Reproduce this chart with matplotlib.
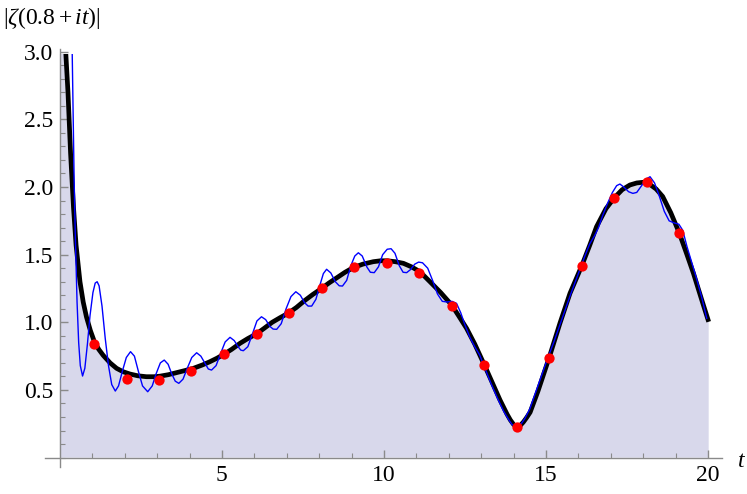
import matplotlib
matplotlib.use('Agg')
import matplotlib.pyplot as plt
from matplotlib.patches import Rectangle
from matplotlib.ticker import MultipleLocator, FixedLocator

plt.rcParams['font.family'] = ['Liberation Serif', 'DejaVu Serif']
plt.rcParams['mathtext.fontset'] = 'custom'
plt.rcParams['mathtext.rm'] = 'Liberation Serif'
plt.rcParams['mathtext.it'] = 'Liberation Serif:italic'

# |zeta(0.8+it)|
zeta_t = [0.00, 0.10, 0.18, 0.25, 0.33, 0.42, 0.50, 0.62, 0.72, 0.82, 0.94, 1.06, 1.20, 1.34,
          1.55, 1.75, 1.95, 2.16, 2.40, 2.67, 2.90, 3.09, 3.35, 3.60, 3.85, 4.12, 4.40, 4.63,
          4.85, 5.07, 5.30, 5.56, 5.80, 6.07, 6.30, 6.55, 6.80, 7.05, 7.30, 7.55, 7.80, 8.08,
          8.30, 8.55, 8.80, 9.05, 9.35, 9.67, 9.90, 10.10, 10.35, 10.60, 10.85, 11.11, 11.42,
          11.75, 12.09, 12.30, 12.55, 12.80, 13.10, 13.35, 13.58, 13.80, 13.90, 14.00, 14.10,
          14.20, 14.30, 14.40, 14.51, 14.75, 15.10, 15.43, 15.74, 16.10, 16.35, 16.56, 16.85,
          17.11, 17.35, 17.59, 17.80, 18.00, 18.20, 18.40, 18.60, 18.85, 19.11, 19.35, 19.55,
          19.80, 20.02]
zeta_v = [4.40, 3.80, 3.00, 2.70, 2.25, 1.85, 1.57, 1.30, 1.15, 1.04, 0.94, 0.86, 0.80, 0.755,
          0.70, 0.66, 0.635, 0.618, 0.605, 0.598, 0.598, 0.602, 0.613, 0.628, 0.643, 0.66, 0.685, 0.709,
          0.735, 0.765, 0.80, 0.845, 0.88, 0.915, 0.955, 1.00, 1.035, 1.068, 1.11, 1.16, 1.205, 1.251,
          1.29, 1.33, 1.37, 1.404, 1.43, 1.448, 1.455, 1.455, 1.448, 1.436, 1.41, 1.374, 1.30,
          1.22, 1.128, 1.05, 0.955, 0.84, 0.684, 0.55, 0.426, 0.32, 0.278, 0.245, 0.228,
          0.236, 0.262, 0.295, 0.335, 0.49, 0.741, 0.993, 1.214, 1.416, 1.57, 1.707, 1.84,
          1.921, 1.98, 2.015, 2.03, 2.035, 2.02, 1.985, 1.93, 1.81, 1.662, 1.50, 1.362,
          1.17, 1.004]

# partial sum approximation (blue)
approx_t = [0.30, 0.38, 0.40, 0.44, 0.48, 0.53, 0.58, 0.63, 0.70, 0.77, 0.85, 0.93, 1.02, 1.09,
            1.15, 1.21, 1.30, 1.40, 1.50, 1.60, 1.71, 1.81, 1.93, 2.05, 2.18, 2.30, 2.42, 2.55,
            2.71, 2.85, 2.97, 3.10, 3.22, 3.34, 3.45, 3.56, 3.67, 3.80, 3.93, 4.07, 4.22, 4.35,
            4.47, 4.58, 4.68, 4.82, 4.96, 5.10, 5.25, 5.38, 5.50, 5.58, 5.66, 5.80, 5.95, 6.08,
            6.22, 6.35, 6.48, 6.58, 6.69, 6.83, 6.98, 7.13, 7.28, 7.42, 7.55, 7.66, 7.77, 7.90,
            8.03, 8.13, 8.23, 8.36, 8.50, 8.62, 8.72, 8.85, 8.98, 9.10, 9.21, 9.33, 9.47, 9.58,
            9.70, 9.83, 9.96, 10.10, 10.22, 10.34, 10.47, 10.59, 10.70, 10.82, 10.95, 11.07,
            11.19, 11.35, 11.50, 11.65, 11.80, 11.95, 12.10, 12.24, 12.37, 12.50, 12.65, 12.80,
            12.95, 13.10, 13.30, 13.50, 13.70, 13.85, 13.95, 14.05, 14.15, 14.25, 14.35, 14.50,
            14.75, 15.00, 15.25, 15.50, 15.75, 16.00, 16.20, 16.35, 16.50, 16.62, 16.75, 16.90,
            17.05, 17.18, 17.28, 17.40, 17.55, 17.68, 17.80, 17.95, 18.10, 18.21, 18.35, 18.50,
            18.65, 18.80, 18.95, 19.10, 19.22, 19.35, 19.50, 19.65, 19.80, 19.96]
approx_v = [4.00, 3.00, 2.70, 2.05, 1.60, 1.15, 0.85, 0.68, 0.603, 0.66, 0.84, 1.05, 1.22, 1.29,
            1.30, 1.27, 1.12, 0.88, 0.68, 0.54, 0.492, 0.53, 0.64, 0.74, 0.783, 0.75, 0.64, 0.53,
            0.487, 0.53, 0.62, 0.70, 0.721, 0.69, 0.62, 0.565, 0.549, 0.58, 0.66, 0.74, 0.775, 0.75,
            0.70, 0.655, 0.647, 0.68, 0.77, 0.855, 0.889, 0.865, 0.82, 0.795, 0.79, 0.82, 0.92, 1.01,
            1.041, 1.02, 0.97, 0.95, 0.948, 0.99, 1.10, 1.19, 1.226, 1.20, 1.145, 1.12, 1.12, 1.17,
            1.28, 1.36, 1.392, 1.365, 1.30, 1.27, 1.268, 1.31, 1.42, 1.49, 1.514, 1.49, 1.41, 1.37,
            1.367, 1.41, 1.50, 1.54, 1.544, 1.51, 1.42, 1.37, 1.367, 1.39, 1.43, 1.445,
            1.44, 1.40, 1.31, 1.21, 1.155, 1.15, 1.155, 1.14, 1.07, 0.98, 0.89, 0.82,
            0.76, 0.67, 0.55, 0.44, 0.34, 0.28, 0.245, 0.228, 0.232, 0.255, 0.29, 0.36,
            0.53, 0.70, 0.86, 1.03, 1.20, 1.36, 1.49, 1.58, 1.64, 1.70, 1.79, 1.88,
            1.96, 2.01, 2.022, 2.00, 1.965, 1.953, 1.96, 2.01, 2.06, 2.076, 2.03, 1.93,
            1.82, 1.75, 1.735, 1.725, 1.68, 1.56, 1.44, 1.32, 1.19, 1.03]

# red points
dot_t = [1.06, 2.06, 3.06, 4.05, 5.06, 6.07, 7.07, 8.08, 9.07, 10.08, 11.08, 12.09, 13.10,
         14.10, 15.09, 16.10, 17.11, 18.11, 19.11]
dot_v = [0.84, 0.583, 0.571, 0.642, 0.763, 0.911, 1.066, 1.251, 1.406, 1.438, 1.367, 1.118,
         0.684, 0.228, 0.736, 1.416, 1.921, 2.039, 1.662]

fig = plt.figure(figsize=(7.47, 4.94), dpi=100)
ax = fig.add_axes([0.0602, 0.0553, 0.9063, 0.8455])
ax.set_xlim(-0.46, 20.43)
ax.set_ylim(-0.067, 3.02)

clip = Rectangle((-1, -1), 25, 3.98, transform=ax.transData)

fill = ax.fill_between(zeta_t, 0, zeta_v, color='#D8D8EB', lw=0, zorder=1)
fill.set_clip_path(clip)
l1, = ax.plot(zeta_t, zeta_v, color='black', lw=3.4, zorder=2, solid_capstyle='butt')
l1.set_clip_path(clip)
l2, = ax.plot(approx_t, approx_v, color='#0000FF', lw=1.0, zorder=3)
l2.set_clip_path(clip)
ax.plot(dot_t, dot_v, 'o', color='#FF0000', ms=7.4, mec='none', zorder=4)

for s in ['top', 'right']:
    ax.spines[s].set_visible(False)
for s in ['left', 'bottom']:
    ax.spines[s].set_position(('data', 0))
    ax.spines[s].set_color('#8a8a8a')
    ax.spines[s].set_linewidth(1.0)

ax.xaxis.set_major_locator(FixedLocator([5, 10, 15, 20]))
ax.xaxis.set_minor_locator(FixedLocator([1, 2, 3, 4, 6, 7, 8, 9, 11, 12, 13, 14, 16, 17, 18, 19]))
ax.yaxis.set_major_locator(FixedLocator([0.5, 1.0, 1.5, 2.0, 2.5, 3.0]))
ax.yaxis.set_minor_locator(MultipleLocator(0.1))
ax.set_yticklabels(['0.5', '1.0', '1.5', '2.0', '2.5', '3.0'])
ax.tick_params(which='both', direction='in', color='#8a8a8a', labelsize=17, labelcolor='black')
ax.tick_params(which='major', length=6, width=1.0)
ax.tick_params(which='minor', length=3.5, width=0.8)
ax.tick_params(axis='x', pad=5)
ax.tick_params(axis='y', pad=5)

fig.text(0.004, 1 - 18 / 494, r'$|\zeta(0.8+it)|$', fontsize=17, ha='left', va='center')
fig.text(742 / 747, 1 - 461 / 494, r'$t$', fontsize=17, ha='center', va='center')

plt.savefig('out.png', dpi=100)
